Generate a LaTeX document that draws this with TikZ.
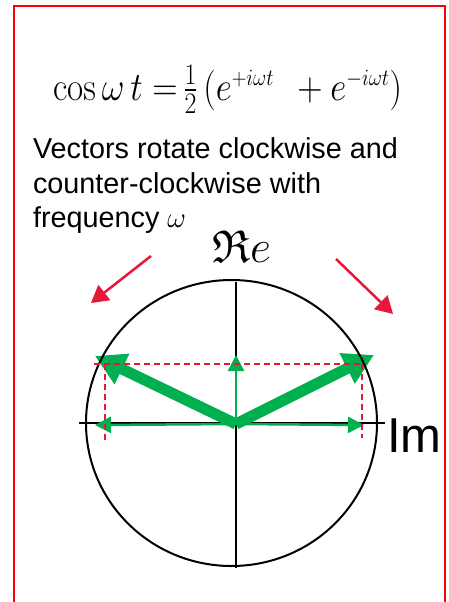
\RequirePackage{fix-cm}
\documentclass[tikz,border=0pt]{standalone}
\usepackage{amssymb}
\usepackage{graphicx}
\usepackage[no-math]{fontspec}
\newfontfamily\arial{Liberation Sans}
\usetikzlibrary{arrows.meta}
\DeclareMathSizes{38}{38}{22}{16}
\newcommand{\fracdigit}[1]{\hbox{\fontsize{28}{30}\selectfont #1}}
\definecolor{vgreen}{RGB}{0,176,80}
\definecolor{crim}{RGB}{232,23,58}
\begin{document}
\begin{tikzpicture}[x=1pt,y=-1pt,
  txt/.style={anchor=base west, inner sep=0pt, outer sep=0pt},
  axis/.style={black, line width=1.5pt},
  rim/.style={black, line width=2pt},
  thickvec/.style={vgreen, line width=11pt, -{Triangle[length=30pt,width=32pt]}},
  thinvec/.style={vgreen, line width=2.5pt, -{Triangle[length=16pt,width=16pt]}},
  rotarrow/.style={crim, line width=2.5pt, -{Triangle[length=17pt,width=19pt]}},
  proj/.style={crim, line width=1.8pt, dash pattern=on 6pt off 4pt}]
\useasboundingbox (0,0) rectangle (448,602);
% frame
\draw[red, line width=2pt] (14,604) -- (14,6) -- (445,6) -- (445,604);
% equation
\node[txt] (eq) at (53,100) {\resizebox{349pt}{!}{\scalebox{1}[1.15]{\fontsize{38}{44}\selectfont$\cos\omega\,t\;{=}\,\frac{\fracdigit{1}}{\fracdigit{2}}\,(e^{+i\omega t}\;\,+ e^{-i\omega t})$}}};
% description
\node[txt] (l1) at (33,158) {\fontsize{28.8}{34}\arial Vectors rotate clockwise and};
\node[txt] (l2) at (33,193) {\fontsize{28.8}{34}\arial counter-clockwise with};
\node[txt] (l3) at (33,227) {\fontsize{28.8}{34}\arial frequency $\omega$};
% labels
\node[txt] (re) at (212,262) {\fontsize{46}{50}\selectfont$\mathfrak{R}e$};
\node[txt] (im) at (387,452) {\fontsize{49}{55}\arial Im};
% coordinates
\coordinate (O) at (236,424);
\coordinate (atop) at (236,282);
\coordinate (abot) at (236,568);
\coordinate (aleft) at (79,423);
\coordinate (aright) at (385,423);
\coordinate (tl) at (95,356);
\coordinate (tr) at (374,355);
\coordinate (tu) at (236,355);
\coordinate (hl) at (95,425);
\coordinate (hr) at (364,425);
\coordinate (d1) at (94,364);
\coordinate (d2) at (364,364);
\coordinate (dl) at (105,442);
\coordinate (dlt) at (105,364);
\coordinate (dr) at (362,438);
\coordinate (drt) at (362,364);
\coordinate (r1a) at (151,256);
\coordinate (r1b) at (91,303);
\coordinate (r2a) at (336,259);
\coordinate (r2b) at (393,314);
% axes
\draw[axis] (atop) -- (abot);
\draw[axis] (aleft) -- (aright);
% green vectors
\draw[thickvec] (O) -- (tl);
\draw[thickvec] (O) -- (tr);
\draw[thinvec] (O) -- (tu);
\draw[thinvec] (O) -- (hl);
\draw[thinvec] (O) -- (hr);
% circle
\draw[rim] (231.5,423) ellipse [x radius=145.5, y radius=143];
% projections
\draw[proj] (d1) -- (d2);
\draw[proj] (dlt) -- (dl);
\draw[proj] (drt) -- (dr);
% rotation arrows
\draw[rotarrow] (r1a) -- (r1b);
\draw[rotarrow] (r2a) -- (r2b);
\end{tikzpicture}
\end{document}
